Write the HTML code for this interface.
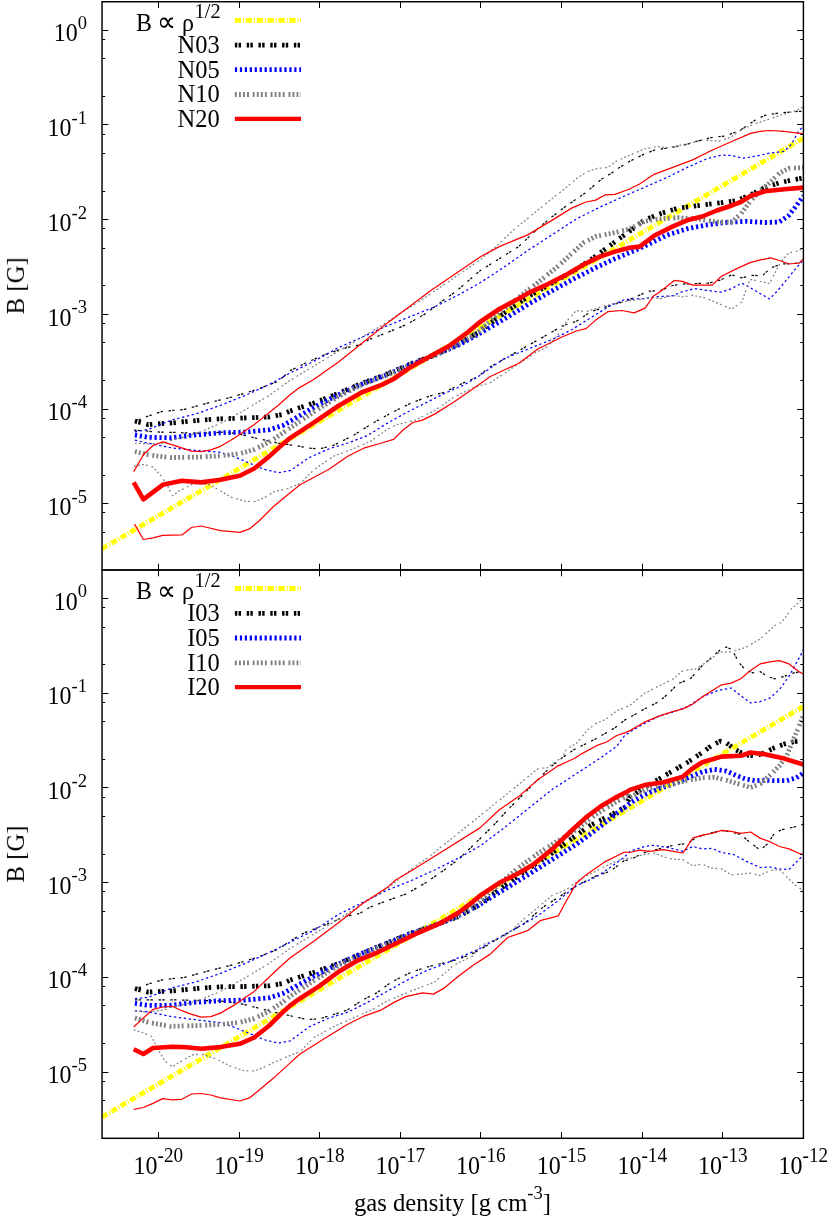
<!DOCTYPE html>
<html><head><meta charset="utf-8"><title>B vs gas density</title>
<style>html,body{margin:0;padding:0;background:#fff;font-family:"Liberation Serif",serif;}svg{display:block}</style></head>
<body>
<svg width="830" height="1219" viewBox="0 0 830 1219" style="display:block">
<rect x="0" y="0" width="830" height="1219" fill="#fff"/>
<clipPath id="cp0"><rect x="102.05" y="1.75" width="701.35" height="568.25"/></clipPath>
<g clip-path="url(#cp0)">
<path d="M102.0,548.8 L803.4,138.2" fill="none" stroke="#ffff00" stroke-width="4.8" stroke-linejoin="round" stroke-dasharray="6.2 1.9 1 1.8"/>
<path d="M134.9,421.0 L148.2,424.6 L172.3,422.9 L196.4,420.5 L220.5,418.8 L244.6,418.0 L268.7,417.0 L283.1,414.3 L290.0,411.0 L314.1,402.9 L338.2,393.4 L362.3,383.2 L386.4,374.3 L410.5,363.9 L434.6,354.7 L458.7,343.9 L478.0,332.7 L504.1,313.2 L528.2,296.5 L552.3,282.8 L576.4,269.2 L590.8,259.7 L605.3,249.0 L619.8,238.3 L629.4,231.4 L644.5,220.1 L658.9,214.1 L678.2,208.1 L697.5,205.7 L716.7,203.3 L736.0,200.8 L750.5,194.8 L764.9,187.6 L779.4,182.8 L793.9,179.6 L803.5,178.0" fill="none" stroke="#000000" stroke-width="4.8" stroke-linejoin="round" stroke-dasharray="2.4 1.3 2.4 5.7"/>
<path d="M134.9,421.4 L148.2,416.1 L162.7,411.3 L184.3,409.4 L208.4,402.9 L232.5,396.9 L256.6,389.6 L278.3,381.2 L290.0,370.7 L304.5,363.5 L323.7,355.1 L338.2,350.2 L347.8,347.3 L359.9,344.9 L369.5,339.4 L386.4,332.9 L405.7,324.9 L424.9,314.1 L444.2,299.6 L456.3,291.2 L480.0,270.7 L499.3,258.7 L518.6,246.6 L537.8,228.6 L552.3,216.5 L566.7,205.7 L586.0,192.4 L601.7,179.0 L611.3,173.3 L621.0,166.5 L630.0,161.1 L644.5,153.9 L654.1,150.2 L668.6,147.8 L683.0,145.4 L697.5,141.1 L711.9,137.5 L726.4,135.8 L740.8,129.8 L755.3,120.1 L764.9,115.3 L779.4,112.9 L793.9,111.7 L803.5,111.2" fill="none" stroke="#000000" stroke-width="1.25" stroke-linejoin="round" stroke-dasharray="2.5 1.2 2.5 5.6"/>
<path d="M134.0,430.1 L143.1,430.7 L155.1,431.9 L170.8,432.3 L182.8,432.8 L197.3,433.1 L209.3,433.1 L225.0,431.9 L239.8,434.2 L254.2,437.8 L278.3,443.1 L300.0,446.3 L306.9,447.8 L318.9,449.0 L333.4,445.4 L352.7,435.8 L371.9,423.7 L391.2,412.9 L410.5,403.3 L429.8,396.0 L444.2,392.4 L463.5,382.8 L478.0,376.7 L489.6,367.1 L508.9,356.3 L528.2,345.4 L547.5,334.6 L561.9,326.1 L576.4,321.3 L590.8,311.7 L610.1,305.7 L629.4,299.6 L648.7,291.2 L660.0,290.7 L672.3,285.5 L684.6,283.9 L696.9,283.5 L709.2,283.1 L719.4,280.4 L731.7,274.9 L741.9,277.8 L752.2,275.3 L762.4,275.7 L770.6,268.1 L780.8,264.0 L791.1,263.6 L799.3,263.0" fill="none" stroke="#000000" stroke-width="1.25" stroke-linejoin="round" stroke-dasharray="2.5 1.2 2.5 5.6"/>
<path d="M134.9,434.9 L148.2,437.3 L169.9,437.8 L196.4,434.9 L220.5,432.8 L244.6,432.1 L268.7,429.9 L283.1,425.4 L290.0,421.4 L314.1,407.2 L338.2,394.9 L362.3,383.9 L386.4,374.9 L410.5,364.6 L434.6,355.3 L458.7,345.0 L478.0,334.5 L504.1,319.2 L528.2,304.3 L552.3,290.7 L576.4,277.4 L595.7,267.7 L614.9,258.8 L634.2,250.7 L648.7,244.2 L663.1,237.0 L668.6,234.6 L687.8,228.6 L707.1,224.9 L726.4,222.5 L745.7,221.3 L764.9,222.5 L779.4,222.0 L789.0,215.3 L796.3,205.7 L803.5,196.0" fill="none" stroke="#0000ff" stroke-width="4.8" stroke-linejoin="round" stroke-dasharray="2.2 2.75"/>
<path d="M134.9,431.8 L148.2,429.4 L172.3,419.8 L196.4,413.7 L220.5,405.3 L244.6,395.7 L268.7,384.8 L290.0,373.1 L314.1,361.1 L338.2,347.8 L362.3,337.0 L386.4,326.1 L410.5,316.5 L434.6,306.9 L458.7,294.8 L480.0,282.8 L504.1,267.1 L528.2,250.2 L552.3,234.6 L576.4,218.9 L600.5,206.9 L624.6,196.0 L630.0,193.6 L649.3,185.2 L668.6,176.7 L687.8,167.1 L707.1,158.7 L721.6,155.1 L731.2,155.5 L743.3,158.2 L755.3,156.3 L769.8,153.1 L784.2,151.4 L791.4,144.2 L798.7,131.0 L803.5,126.1" fill="none" stroke="#0000ff" stroke-width="1.25" stroke-linejoin="round" stroke-dasharray="2.3 2.65"/>
<path d="M134.9,440.2 L148.2,443.1 L172.3,448.0 L196.4,450.4 L220.5,452.3 L234.9,457.1 L249.4,463.1 L263.9,469.2 L278.3,472.8 L290.4,470.4 L309.3,457.5 L328.6,449.0 L347.8,443.0 L367.1,435.8 L386.4,423.7 L405.7,412.9 L424.9,403.3 L444.2,393.6 L463.5,385.2 L478.0,376.7 L504.1,358.7 L528.2,349.0 L552.3,339.4 L571.6,329.8 L590.8,317.7 L610.1,305.7 L624.6,299.6 L643.9,298.4 L658.3,296.7 L672.3,295.8 L682.5,291.7 L694.8,288.6 L709.2,290.7 L721.4,292.1 L731.7,288.6 L741.9,283.1 L750.1,287.6 L760.4,293.7 L769.6,298.9 L776.7,291.7 L787.0,279.4 L795.2,269.2 L803.4,259.9" fill="none" stroke="#0000ff" stroke-width="1.25" stroke-linejoin="round" stroke-dasharray="2.3 2.65"/>
<path d="M134.9,451.6 L148.2,454.7 L169.9,457.6 L196.4,457.1 L220.5,455.8 L239.8,453.7 L254.2,449.5 L268.7,442.3 L283.1,432.9 L290.0,428.0 L314.1,411.8 L338.2,396.5 L362.3,384.5 L386.4,375.2 L410.5,365.0 L434.6,355.8 L458.7,344.0 L478.0,332.2 L499.3,313.3 L518.6,297.4 L537.8,282.6 L557.1,266.9 L571.6,253.7 L583.6,242.7 L595.7,236.5 L614.9,232.6 L629.4,229.0 L644.5,221.3 L658.9,218.9 L678.2,217.7 L697.5,218.9 L716.7,222.0 L731.2,222.0 L740.8,214.1 L750.5,200.8 L760.1,191.2 L769.8,182.8 L779.4,173.1 L789.0,168.3 L803.5,167.6" fill="none" stroke="#808080" stroke-width="4.8" stroke-linejoin="round" stroke-dasharray="1.9 2.15 1.9 2.15 1.9 2.15 1.9 3.8"/>
<path d="M134.9,443.1 L148.2,443.9 L162.7,443.1 L172.3,440.2 L196.4,433.5 L220.5,423.4 L244.6,410.1 L268.7,395.7 L290.0,380.4 L314.1,365.9 L338.2,351.4 L362.3,337.0 L386.4,322.5 L410.5,306.9 L434.6,291.2 L480.0,259.9 L494.5,247.8 L513.7,229.8 L533.0,214.1 L552.3,198.4 L563.1,190.0 L578.6,177.1 L588.2,171.3 L597.8,168.4 L607.5,167.5 L617.1,160.7 L630.0,155.1 L644.5,149.0 L656.5,146.6 L668.6,147.8 L685.4,144.2 L702.3,140.1 L719.2,141.1 L731.2,137.0 L743.3,128.6 L755.3,123.7 L769.8,118.9 L784.2,114.1 L796.3,110.5 L803.5,106.9" fill="none" stroke="#808080" stroke-width="1.25" stroke-linejoin="round" stroke-dasharray="1.9 2.15 1.9 2.15 1.9 2.15 1.9 3.8"/>
<path d="M134.0,466.3 L143.1,464.5 L152.7,466.9 L161.1,475.9 L167.2,485.5 L172.6,495.8 L179.2,491.0 L191.3,484.9 L199.7,483.1 L209.3,484.9 L219.0,489.8 L230.1,496.9 L244.6,501.2 L254.2,501.7 L263.9,498.1 L273.5,492.0 L288.0,488.4 L300.0,483.6 L314.1,469.5 L333.4,456.3 L352.7,449.0 L371.9,440.6 L386.4,429.8 L396.0,424.9 L415.3,420.1 L434.6,410.5 L453.9,397.2 L473.1,387.6 L490.0,382.8 L535.4,352.7 L547.5,346.6 L557.1,335.8 L566.7,321.3 L576.4,310.5 L586.0,311.7 L600.5,306.9 L614.9,303.3 L629.4,300.8 L639.0,299.6 L653.5,297.2 L660.0,298.9 L672.3,295.4 L682.5,296.8 L692.8,295.4 L705.1,297.8 L719.4,304.0 L731.7,309.1 L741.9,301.9 L746.0,289.6 L750.1,279.4 L758.3,281.0 L769.6,283.5 L774.7,273.3 L780.8,262.0 L789.0,252.8 L797.2,251.1 L803.4,248.7" fill="none" stroke="#808080" stroke-width="1.25" stroke-linejoin="round" stroke-dasharray="1.9 2.15 1.9 2.15 1.9 2.15 1.9 3.8"/>
<path d="M133.7,482.4 L143.4,499.3 L162.7,484.8 L181.9,480.7 L201.2,482.4 L220.5,479.8 L239.8,475.7 L254.2,468.5 L268.7,456.9 L283.1,443.9 L290.0,438.1 L314.1,422.3 L338.2,406.0 L362.3,392.1 L381.6,384.9 L393.6,379.0 L410.5,367.2 L429.8,356.4 L449.0,346.0 L468.3,331.8 L480.0,322.0 L499.3,309.0 L518.6,298.7 L528.2,293.2 L547.5,284.3 L566.7,274.5 L586.0,263.3 L600.5,256.4 L614.9,251.6 L629.4,247.8 L639.6,246.6 L654.1,235.8 L673.4,226.1 L687.8,220.1 L702.3,216.5 L716.7,210.5 L731.2,205.7 L740.8,202.0 L750.5,196.0 L764.9,191.2 L784.2,189.3 L803.5,187.6" fill="none" stroke="#ff0000" stroke-width="4.6" stroke-linejoin="round"/>
<path d="M133.7,471.6 L143.4,454.7 L153.0,445.5 L162.7,441.9 L177.1,446.3 L191.6,451.1 L201.2,451.6 L210.8,449.9 L220.5,446.3 L234.9,437.8 L254.2,424.6 L278.3,405.3 L290.0,394.8 L299.6,387.6 L314.1,379.2 L338.2,362.3 L362.3,343.0 L386.4,323.7 L410.5,305.7 L429.8,291.2 L480.0,257.0 L499.3,246.6 L528.2,234.6 L552.3,220.1 L571.6,208.1 L586.0,202.0 L595.7,200.1 L605.3,194.8 L614.9,194.3 L627.0,190.0 L630.0,188.8 L639.6,184.0 L654.1,174.3 L673.4,167.1 L692.7,159.9 L711.9,150.2 L731.2,141.8 L750.5,133.4 L760.1,131.4 L769.8,130.5 L784.2,131.4 L803.5,133.9" fill="none" stroke="#ff0000" stroke-width="1.25" stroke-linejoin="round"/>
<path d="M134.5,524.1 L143.4,539.5 L153.0,537.8 L162.7,535.4 L181.9,534.9 L191.6,527.5 L201.2,526.0 L220.5,530.6 L239.8,532.3 L249.4,528.9 L259.0,521.0 L273.5,506.5 L288.0,494.5 L300.0,484.8 L328.6,469.5 L347.8,456.3 L364.7,447.8 L381.6,443.0 L393.6,439.4 L403.3,429.8 L412.9,422.5 L422.5,420.1 L434.6,414.1 L453.9,402.0 L473.1,388.8 L490.0,376.7 L505.3,369.5 L518.6,363.5 L537.8,349.0 L547.5,344.2 L561.9,337.0 L576.4,331.0 L586.0,328.6 L595.7,320.1 L607.7,311.7 L622.2,310.5 L634.2,312.9 L645.1,308.1 L653.5,296.0 L660.0,291.7 L674.3,280.4 L682.5,281.4 L692.8,285.1 L712.2,285.1 L721.4,276.3 L737.8,268.1 L750.1,262.6 L760.4,259.9 L770.6,257.9 L780.8,261.0 L789.0,264.0 L799.3,263.0 L803.4,258.9" fill="none" stroke="#ff0000" stroke-width="1.25" stroke-linejoin="round"/>
</g>
<path d="M234.9,20.3 L301.0,20.3" fill="none" stroke="#ffff00" stroke-width="4.8" stroke-linejoin="round" stroke-dasharray="6.2 1.9 1 1.8"/>
<path d="M234.9,45.1 L301.0,45.1" fill="none" stroke="#000000" stroke-width="4.8" stroke-linejoin="round" stroke-dasharray="2.4 1.3 2.4 5.7"/>
<path d="M234.9,69.7 L301.0,69.7" fill="none" stroke="#0000ff" stroke-width="4.8" stroke-linejoin="round" stroke-dasharray="2.2 2.75"/>
<path d="M234.9,94.5 L301.0,94.5" fill="none" stroke="#808080" stroke-width="4.8" stroke-linejoin="round" stroke-dasharray="1.9 2.15 1.9 2.15 1.9 2.15 1.9 3.8"/>
<path d="M234.9,118.9 L301.0,118.9" fill="none" stroke="#ff0000" stroke-width="4.4" stroke-linejoin="round"/>
<clipPath id="cp568"><rect x="102.05" y="570.0" width="701.35" height="568.25"/></clipPath>
<g clip-path="url(#cp568)">
<path d="M102.0,1117.0 L803.4,706.5" fill="none" stroke="#ffff00" stroke-width="4.8" stroke-linejoin="round" stroke-dasharray="6.2 1.9 1 1.8"/>
<path d="M134.9,988.5 L148.2,992.1 L172.3,990.9 L196.4,988.5 L220.5,986.8 L244.6,986.5 L268.7,985.8 L283.1,983.5 L290.0,980.2 L314.1,972.3 L338.2,963.7 L362.3,953.3 L386.4,943.4 L410.5,933.2 L434.6,925.3 L458.7,916.4 L478.0,905.5 L504.1,886.0 L528.2,869.0 L552.3,852.9 L571.6,838.7 L590.8,825.1 L610.1,815.5 L624.6,807.4 L630.0,797.1 L644.5,787.5 L658.9,779.0 L673.4,770.6 L687.8,762.2 L702.3,752.5 L711.9,745.3 L720.4,741.2 L726.4,742.9 L736.0,750.1 L745.7,754.9 L755.3,756.1 L764.9,752.5 L774.6,747.7 L784.2,744.1 L793.9,741.7 L803.5,740.5" fill="none" stroke="#000000" stroke-width="4.8" stroke-linejoin="round" stroke-dasharray="2.4 1.3 2.4 5.7"/>
<path d="M134.9,989.0 L148.2,984.1 L162.7,979.8 L184.3,977.4 L208.4,970.9 L232.5,964.9 L256.6,957.6 L278.3,949.2 L290.0,941.1 L304.5,932.7 L323.7,925.5 L338.2,919.4 L347.8,915.8 L359.9,913.4 L369.5,907.4 L386.4,900.9 L405.7,894.1 L424.9,883.3 L444.2,870.0 L458.7,859.2 L480.0,838.7 L494.5,824.3 L508.9,808.6 L523.4,794.1 L537.8,779.7 L549.9,767.6 L561.9,758.0 L573.4,750.0 L583.5,744.9 L595.1,739.2 L605.2,733.4 L615.3,727.6 L625.4,719.6 L630.0,717.3 L644.5,708.9 L658.9,701.7 L668.6,693.3 L678.2,683.6 L690.2,678.8 L702.3,665.5 L711.9,657.1 L721.6,648.7 L726.4,647.0 L732.4,649.9 L738.4,661.9 L745.7,670.4 L752.9,672.8 L760.1,671.6 L767.3,676.4 L774.6,678.8 L784.2,676.4 L793.9,672.8 L803.5,671.6" fill="none" stroke="#000000" stroke-width="1.25" stroke-linejoin="round" stroke-dasharray="2.5 1.2 2.5 5.6"/>
<path d="M134.9,999.8 L169.9,999.8 L220.5,1001.0 L239.8,1003.4 L254.2,1007.0 L278.3,1013.1 L300.0,1017.9 L306.9,1019.4 L318.9,1019.0 L333.4,1014.6 L347.8,1009.8 L362.3,1000.2 L376.7,992.9 L391.2,982.1 L410.5,972.5 L424.9,967.6 L439.4,964.0 L458.7,959.2 L473.1,953.2 L480.0,949.6 L504.1,935.1 L523.4,924.3 L542.7,907.4 L559.5,896.6 L576.4,885.7 L595.7,876.1 L610.1,871.3 L624.6,860.4 L630.0,859.8 L644.5,852.5 L658.9,848.9 L673.4,845.3 L687.8,843.4 L697.5,836.9 L709.5,833.3 L721.6,830.4 L731.2,832.0 L740.8,834.5 L750.5,842.9 L760.1,850.1 L767.3,844.1 L774.6,833.3 L781.8,829.6 L793.9,827.2 L803.5,824.1" fill="none" stroke="#000000" stroke-width="1.25" stroke-linejoin="round" stroke-dasharray="2.5 1.2 2.5 5.6"/>
<path d="M134.9,1003.4 L148.2,1005.3 L169.9,1005.3 L196.4,1002.2 L220.5,1000.7 L244.6,1000.1 L268.7,997.9 L283.1,993.4 L290.0,989.5 L314.1,976.2 L338.2,964.2 L362.3,953.3 L386.4,943.4 L410.5,933.6 L434.6,925.5 L458.7,915.6 L478.0,905.7 L504.1,889.5 L528.2,874.7 L552.3,859.4 L576.4,844.3 L595.7,830.1 L614.9,814.8 L627.0,805.7 L630.0,803.1 L644.5,794.7 L658.9,788.7 L673.4,783.9 L687.8,777.8 L702.3,771.8 L714.3,769.4 L726.4,771.1 L736.0,775.4 L745.7,779.0 L755.3,780.7 L764.9,780.2 L774.6,780.7 L786.6,780.7 L796.3,777.8 L803.5,773.0" fill="none" stroke="#0000ff" stroke-width="4.8" stroke-linejoin="round" stroke-dasharray="2.2 2.75"/>
<path d="M134.9,998.6 L148.2,997.4 L172.3,987.8 L196.4,981.7 L220.5,973.3 L244.6,963.7 L268.7,952.8 L290.0,942.3 L314.1,930.3 L338.2,914.6 L362.3,902.6 L386.4,890.5 L410.5,880.9 L434.6,870.0 L458.7,858.0 L480.0,846.0 L504.1,827.9 L528.2,808.6 L552.3,789.3 L576.4,773.7 L600.5,758.0 L606.6,753.6 L616.7,746.4 L624.0,736.3 L630.0,731.8 L644.5,723.4 L658.9,716.1 L673.4,712.0 L687.8,706.5 L702.3,696.9 L716.7,690.8 L731.2,688.0 L740.8,695.7 L750.5,702.9 L760.1,701.7 L769.8,698.1 L779.4,689.6 L789.0,676.4 L796.3,663.1 L803.5,649.9" fill="none" stroke="#0000ff" stroke-width="1.25" stroke-linejoin="round" stroke-dasharray="2.3 2.65"/>
<path d="M134.9,1010.7 L148.2,1011.9 L172.3,1016.7 L196.4,1019.8 L220.5,1022.7 L234.9,1027.5 L249.4,1033.5 L263.9,1039.6 L278.3,1043.2 L290.4,1040.8 L309.3,1026.7 L328.6,1018.2 L347.8,1012.2 L367.1,1002.6 L386.4,991.7 L405.7,980.9 L424.9,971.3 L444.2,964.0 L463.5,955.6 L478.0,949.6 L499.3,937.5 L518.6,926.7 L537.8,915.8 L557.1,901.4 L576.4,885.7 L595.7,877.3 L610.1,867.6 L624.6,856.8 L630.0,851.3 L644.5,846.5 L654.1,845.3 L668.6,847.7 L683.0,851.3 L692.7,846.5 L702.3,848.9 L711.9,848.4 L721.6,852.5 L733.6,854.5 L745.7,861.0 L760.1,867.5 L769.8,867.0 L779.4,868.9 L789.0,869.4 L798.7,859.8 L803.5,854.9" fill="none" stroke="#0000ff" stroke-width="1.25" stroke-linejoin="round" stroke-dasharray="2.3 2.65"/>
<path d="M134.9,1017.9 L148.2,1022.2 L169.9,1026.3 L196.4,1025.6 L220.5,1024.4 L239.8,1022.4 L254.2,1018.6 L268.7,1011.5 L283.1,1001.9 L290.0,996.3 L314.1,980.4 L338.2,965.8 L362.3,954.1 L386.4,944.2 L410.5,934.2 L434.6,925.3 L458.7,915.3 L478.0,903.7 L499.3,883.9 L518.6,867.8 L537.8,853.5 L557.1,841.3 L576.4,829.5 L595.7,814.6 L614.9,802.7 L627.0,796.1 L630.0,797.1 L644.5,789.9 L658.9,786.3 L673.4,783.9 L687.8,780.2 L702.3,777.8 L714.3,777.3 L726.4,780.2 L738.4,783.9 L750.5,787.5 L760.1,783.9 L769.8,775.4 L779.4,765.8 L786.6,756.1 L793.9,738.1 L798.7,727.2 L803.5,715.2" fill="none" stroke="#808080" stroke-width="4.8" stroke-linejoin="round" stroke-dasharray="1.9 2.15 1.9 2.15 1.9 2.15 1.9 3.8"/>
<path d="M134.9,1011.1 L148.2,1011.9 L162.7,1010.2 L172.3,1007.0 L196.4,1001.5 L220.5,991.4 L244.6,978.1 L268.7,963.7 L290.0,948.4 L314.1,933.9 L338.2,919.4 L362.3,903.8 L386.4,889.3 L410.5,870.0 L420.1,862.8 L427.3,858.0 L480.0,815.8 L499.3,800.2 L518.6,784.5 L537.8,768.8 L547.5,767.6 L557.1,760.4 L561.9,758.0 L566.1,749.3 L576.3,743.5 L587.8,729.8 L595.1,724.0 L605.2,719.6 L616.7,711.0 L630.0,705.3 L644.5,693.3 L658.9,686.0 L673.4,678.8 L683.0,670.4 L695.1,669.2 L707.1,661.9 L719.2,652.3 L731.2,651.8 L745.7,647.5 L760.1,639.0 L774.6,625.8 L781.8,622.2 L791.4,608.9 L803.5,598.1" fill="none" stroke="#808080" stroke-width="1.25" stroke-linejoin="round" stroke-dasharray="1.9 2.15 1.9 2.15 1.9 2.15 1.9 3.8"/>
<path d="M133.7,1029.9 L143.4,1032.8 L151.8,1036.7 L157.8,1049.2 L165.1,1061.3 L172.3,1066.8 L181.9,1060.8 L191.6,1055.2 L201.2,1054.0 L215.7,1058.8 L230.1,1066.1 L244.6,1070.9 L254.2,1070.9 L263.9,1067.3 L273.5,1062.5 L288.0,1056.4 L300.0,1051.6 L314.1,1037.5 L333.4,1026.7 L352.7,1018.2 L371.9,1009.8 L386.4,1001.4 L400.8,995.3 L415.3,989.3 L434.6,982.1 L453.9,965.2 L473.1,955.6 L480.0,946.0 L506.5,935.1 L523.4,919.4 L537.8,907.4 L552.3,895.3 L566.7,889.3 L581.2,878.5 L595.7,871.3 L610.1,864.0 L624.6,858.0 L630.0,858.6 L642.0,854.9 L654.1,853.0 L668.6,858.6 L683.0,859.8 L692.7,865.8 L702.3,864.1 L711.9,868.2 L721.6,868.9 L731.2,874.7 L740.8,874.2 L750.5,873.0 L760.1,875.4 L769.8,870.6 L779.4,869.4 L786.6,876.6 L793.9,883.9 L803.5,891.1" fill="none" stroke="#808080" stroke-width="1.25" stroke-linejoin="round" stroke-dasharray="1.9 2.15 1.9 2.15 1.9 2.15 1.9 3.8"/>
<path d="M133.7,1049.2 L143.4,1054.0 L153.0,1048.0 L172.3,1046.8 L186.7,1047.3 L201.2,1048.7 L220.5,1047.1 L239.8,1043.8 L254.2,1037.5 L268.7,1026.0 L283.1,1011.9 L290.0,1005.7 L299.6,998.7 L318.9,986.4 L338.2,972.0 L357.5,960.6 L376.7,952.8 L396.0,943.5 L415.3,934.2 L439.4,923.7 L458.7,912.5 L473.1,901.6 L480.0,895.7 L499.3,882.8 L518.6,873.3 L533.0,864.7 L552.3,849.1 L571.6,830.5 L586.0,817.4 L600.5,806.5 L614.9,797.9 L627.0,791.7 L630.0,789.9 L644.5,785.1 L663.7,782.2 L683.0,776.6 L692.7,768.2 L702.3,762.2 L721.6,756.6 L740.8,755.7 L750.5,752.5 L764.9,754.2 L784.2,758.6 L803.5,764.6" fill="none" stroke="#ff0000" stroke-width="4.6" stroke-linejoin="round"/>
<path d="M133.7,1027.0 L143.4,1017.9 L153.0,1009.4 L162.7,1007.0 L172.3,1006.3 L181.9,1010.7 L191.6,1014.3 L201.2,1017.2 L210.8,1016.7 L220.5,1013.1 L234.9,1004.6 L254.2,991.4 L278.3,968.5 L290.0,958.0 L314.1,941.1 L338.2,923.1 L362.3,903.8 L386.4,888.1 L396.0,879.7 L410.5,871.3 L429.8,859.2 L480.0,827.9 L499.3,809.8 L518.6,796.6 L537.8,779.7 L557.1,766.4 L575.2,758.0 L582.0,753.6 L596.5,745.7 L606.6,742.0 L616.7,735.5 L625.4,732.6 L630.0,730.6 L644.5,722.2 L658.9,716.1 L673.4,711.3 L683.0,708.9 L692.7,704.1 L702.3,696.9 L711.9,690.8 L721.6,684.8 L731.2,683.1 L740.8,678.8 L750.5,670.4 L760.1,663.9 L769.8,661.9 L779.4,660.7 L789.0,663.9 L798.7,671.6 L803.5,674.0" fill="none" stroke="#ff0000" stroke-width="1.25" stroke-linejoin="round"/>
<path d="M133.7,1109.4 L143.4,1107.5 L153.0,1103.4 L162.7,1098.6 L172.3,1099.8 L181.9,1099.3 L191.6,1094.0 L201.2,1093.5 L210.8,1095.0 L220.5,1097.9 L239.8,1101.0 L249.4,1097.9 L259.0,1090.2 L273.5,1078.1 L288.0,1064.9 L300.0,1054.0 L326.1,1037.5 L347.8,1024.3 L364.7,1015.8 L381.6,1009.8 L393.6,1002.6 L405.7,996.6 L422.5,992.9 L433.4,994.1 L444.2,988.1 L458.7,976.1 L473.1,965.2 L490.0,954.4 L507.7,937.5 L528.2,930.3 L540.2,920.7 L558.3,915.8 L566.7,900.2 L576.4,883.3 L586.0,874.9 L605.3,861.6 L624.6,852.0 L630.0,852.5 L639.6,850.1 L649.3,851.3 L663.7,849.6 L673.4,851.3 L683.0,853.0 L692.7,838.1 L702.3,835.2 L711.9,833.3 L721.6,830.4 L731.2,831.3 L740.8,833.3 L750.5,832.0 L760.1,838.1 L769.8,841.7 L779.4,846.5 L789.0,848.9 L798.7,853.3 L803.5,854.5" fill="none" stroke="#ff0000" stroke-width="1.25" stroke-linejoin="round"/>
</g>
<path d="M234.9,588.5 L301.0,588.5" fill="none" stroke="#ffff00" stroke-width="4.8" stroke-linejoin="round" stroke-dasharray="6.2 1.9 1 1.8"/>
<path d="M234.9,613.4 L301.0,613.4" fill="none" stroke="#000000" stroke-width="4.8" stroke-linejoin="round" stroke-dasharray="2.4 1.3 2.4 5.7"/>
<path d="M234.9,638.0 L301.0,638.0" fill="none" stroke="#0000ff" stroke-width="4.8" stroke-linejoin="round" stroke-dasharray="2.2 2.75"/>
<path d="M234.9,662.8 L301.0,662.8" fill="none" stroke="#808080" stroke-width="4.8" stroke-linejoin="round" stroke-dasharray="1.9 2.15 1.9 2.15 1.9 2.15 1.9 3.8"/>
<path d="M234.9,687.1 L301.0,687.1" fill="none" stroke="#ff0000" stroke-width="4.4" stroke-linejoin="round"/>
<rect x="102.05" y="1.75" width="701.35" height="568.25" fill="none" stroke="#000" stroke-width="1.45"/>
<rect x="102.05" y="570.0" width="701.35" height="568.3" fill="none" stroke="#000" stroke-width="1.45"/>
<path d="M102.05,30.50h6.3 M803.4,30.50h-6.3 M102.05,39.50h3.1 M803.4,39.50h-3.1 M102.05,58.50h3.1 M803.4,58.50h-3.1 M102.05,96.50h3.1 M803.4,96.50h-3.1 M102.05,124.50h6.3 M803.4,124.50h-6.3 M102.05,134.50h3.1 M803.4,134.50h-3.1 M102.05,153.50h3.1 M803.4,153.50h-3.1 M102.05,191.50h3.1 M803.4,191.50h-3.1 M102.05,219.50h6.3 M803.4,219.50h-6.3 M102.05,228.50h3.1 M803.4,228.50h-3.1 M102.05,248.50h3.1 M803.4,248.50h-3.1 M102.05,285.50h3.1 M803.4,285.50h-3.1 M102.05,314.50h6.3 M803.4,314.50h-6.3 M102.05,323.50h3.1 M803.4,323.50h-3.1 M102.05,342.50h3.1 M803.4,342.50h-3.1 M102.05,380.50h3.1 M803.4,380.50h-3.1 M102.05,409.50h6.3 M803.4,409.50h-6.3 M102.05,418.50h3.1 M803.4,418.50h-3.1 M102.05,437.50h3.1 M803.4,437.50h-3.1 M102.05,475.50h3.1 M803.4,475.50h-3.1 M102.05,503.50h6.3 M803.4,503.50h-6.3 M102.05,512.50h3.1 M803.4,512.50h-3.1 M102.05,532.50h3.1 M803.4,532.50h-3.1 M158.50,570.0v-6.3 M158.50,1.75v6.3 M239.50,570.0v-6.3 M239.50,1.75v6.3 M319.50,570.0v-6.3 M319.50,1.75v6.3 M400.50,570.0v-6.3 M400.50,1.75v6.3 M480.50,570.0v-6.3 M480.50,1.75v6.3 M561.50,570.0v-6.3 M561.50,1.75v6.3 M642.50,570.0v-6.3 M642.50,1.75v6.3 M722.50,570.0v-6.3 M722.50,1.75v6.3 M102.05,598.50h6.3 M803.4,598.50h-6.3 M102.05,607.50h3.1 M803.4,607.50h-3.1 M102.05,627.50h3.1 M803.4,627.50h-3.1 M102.05,664.50h3.1 M803.4,664.50h-3.1 M102.05,693.50h6.3 M803.4,693.50h-6.3 M102.05,702.50h3.1 M803.4,702.50h-3.1 M102.05,721.50h3.1 M803.4,721.50h-3.1 M102.05,759.50h3.1 M803.4,759.50h-3.1 M102.05,787.50h6.3 M803.4,787.50h-6.3 M102.05,797.50h3.1 M803.4,797.50h-3.1 M102.05,816.50h3.1 M803.4,816.50h-3.1 M102.05,854.50h3.1 M803.4,854.50h-3.1 M102.05,882.50h6.3 M803.4,882.50h-6.3 M102.05,891.50h3.1 M803.4,891.50h-3.1 M102.05,911.50h3.1 M803.4,911.50h-3.1 M102.05,948.50h3.1 M803.4,948.50h-3.1 M102.05,977.50h6.3 M803.4,977.50h-6.3 M102.05,986.50h3.1 M803.4,986.50h-3.1 M102.05,1005.50h3.1 M803.4,1005.50h-3.1 M102.05,1043.50h3.1 M803.4,1043.50h-3.1 M102.05,1072.50h6.3 M803.4,1072.50h-6.3 M102.05,1081.50h3.1 M803.4,1081.50h-3.1 M102.05,1100.50h3.1 M803.4,1100.50h-3.1 M158.50,1138.3v-6.3 M158.50,570.0v6.3 M239.50,1138.3v-6.3 M239.50,570.0v6.3 M319.50,1138.3v-6.3 M319.50,570.0v6.3 M400.50,1138.3v-6.3 M400.50,570.0v6.3 M480.50,1138.3v-6.3 M480.50,570.0v6.3 M561.50,1138.3v-6.3 M561.50,570.0v6.3 M642.50,1138.3v-6.3 M642.50,570.0v6.3 M722.50,1138.3v-6.3 M722.50,570.0v6.3" stroke="#000" stroke-width="1" fill="none"/>
<g font-family="Liberation Serif, serif" font-size="24" fill="#000" style="opacity:0.999">
<text transform="translate(87,41.4) scale(1,1.055)" text-anchor="end">10<tspan font-size="18.6" dy="-11.6">0</tspan></text>
<text transform="translate(87,136.1) scale(1,1.055)" text-anchor="end">10<tspan font-size="18.6" dy="-11.6">-1</tspan></text>
<text transform="translate(87,230.8) scale(1,1.055)" text-anchor="end">10<tspan font-size="18.6" dy="-11.6">-2</tspan></text>
<text transform="translate(87,325.5) scale(1,1.055)" text-anchor="end">10<tspan font-size="18.6" dy="-11.6">-3</tspan></text>
<text transform="translate(87,420.2) scale(1,1.055)" text-anchor="end">10<tspan font-size="18.6" dy="-11.6">-4</tspan></text>
<text transform="translate(87,514.9) scale(1,1.055)" text-anchor="end">10<tspan font-size="18.6" dy="-11.6">-5</tspan></text>
<text transform="translate(87,609.6) scale(1,1.055)" text-anchor="end">10<tspan font-size="18.6" dy="-11.6">0</tspan></text>
<text transform="translate(87,704.3) scale(1,1.055)" text-anchor="end">10<tspan font-size="18.6" dy="-11.6">-1</tspan></text>
<text transform="translate(87,799.0) scale(1,1.055)" text-anchor="end">10<tspan font-size="18.6" dy="-11.6">-2</tspan></text>
<text transform="translate(87,893.7) scale(1,1.055)" text-anchor="end">10<tspan font-size="18.6" dy="-11.6">-3</tspan></text>
<text transform="translate(87,988.4) scale(1,1.055)" text-anchor="end">10<tspan font-size="18.6" dy="-11.6">-4</tspan></text>
<text transform="translate(87,1083.2) scale(1,1.055)" text-anchor="end">10<tspan font-size="18.6" dy="-11.6">-5</tspan></text>
<text transform="translate(158.4,1174.1) scale(1,1.055)" text-anchor="middle">10<tspan font-size="19.2" dy="-11.6">-20</tspan></text>
<text transform="translate(239.0,1174.1) scale(1,1.055)" text-anchor="middle">10<tspan font-size="19.2" dy="-11.6">-19</tspan></text>
<text transform="translate(319.7,1174.1) scale(1,1.055)" text-anchor="middle">10<tspan font-size="19.2" dy="-11.6">-18</tspan></text>
<text transform="translate(400.3,1174.1) scale(1,1.055)" text-anchor="middle">10<tspan font-size="19.2" dy="-11.6">-17</tspan></text>
<text transform="translate(480.9,1174.1) scale(1,1.055)" text-anchor="middle">10<tspan font-size="19.2" dy="-11.6">-16</tspan></text>
<text transform="translate(561.5,1174.1) scale(1,1.055)" text-anchor="middle">10<tspan font-size="19.2" dy="-11.6">-15</tspan></text>
<text transform="translate(642.2,1174.1) scale(1,1.055)" text-anchor="middle">10<tspan font-size="19.2" dy="-11.6">-14</tspan></text>
<text transform="translate(722.8,1174.1) scale(1,1.055)" text-anchor="middle">10<tspan font-size="19.2" dy="-11.6">-13</tspan></text>
<text transform="translate(803.4,1174.1) scale(1,1.055)" text-anchor="middle">10<tspan font-size="19.2" dy="-11.6">-12</tspan></text>
<text transform="translate(452.5,1211.0) scale(1,1.055)" text-anchor="middle" font-size="24.7">gas density [g cm<tspan font-size="18.6" dy="-11.6">-3</tspan><tspan dy="11.6">]</tspan></text>
<text transform="translate(24.2,285.8) rotate(-90) scale(1,1.055)" text-anchor="middle" font-size="24.7">B [G]</text>
<text transform="translate(24.2,854.05) rotate(-90) scale(1,1.055)" text-anchor="middle" font-size="24.7">B [G]</text>
<text transform="translate(136.0,30.6) scale(1,1.055)" text-anchor="start">B <tspan font-size="27" dx="-1.2" dy="0.8">∝</tspan><tspan dx="-0.3" dy="-0.8"> ρ</tspan><tspan font-size="20.4" dx="0.6" dy="-11.6">1/2</tspan></text>
<text transform="translate(219.8,52.9) scale(1,1.055)" text-anchor="end" font-size="24.5">N03</text>
<text transform="translate(219.8,77.7) scale(1,1.055)" text-anchor="end" font-size="24.5">N05</text>
<text transform="translate(219.8,102.4) scale(1,1.055)" text-anchor="end" font-size="24.5">N10</text>
<text transform="translate(219.8,127.2) scale(1,1.055)" text-anchor="end" font-size="24.5">N20</text>
<text transform="translate(136.0,598.9) scale(1,1.055)" text-anchor="start">B <tspan font-size="27" dx="-1.2" dy="0.8">∝</tspan><tspan dx="-0.3" dy="-0.8"> ρ</tspan><tspan font-size="20.4" dx="0.6" dy="-11.6">1/2</tspan></text>
<text transform="translate(219.8,621.1) scale(1,1.055)" text-anchor="end" font-size="24.5">I03</text>
<text transform="translate(219.8,645.9) scale(1,1.055)" text-anchor="end" font-size="24.5">I05</text>
<text transform="translate(219.8,670.6) scale(1,1.055)" text-anchor="end" font-size="24.5">I10</text>
<text transform="translate(219.8,695.4) scale(1,1.055)" text-anchor="end" font-size="24.5">I20</text>
</g>
</svg>
</body></html>
